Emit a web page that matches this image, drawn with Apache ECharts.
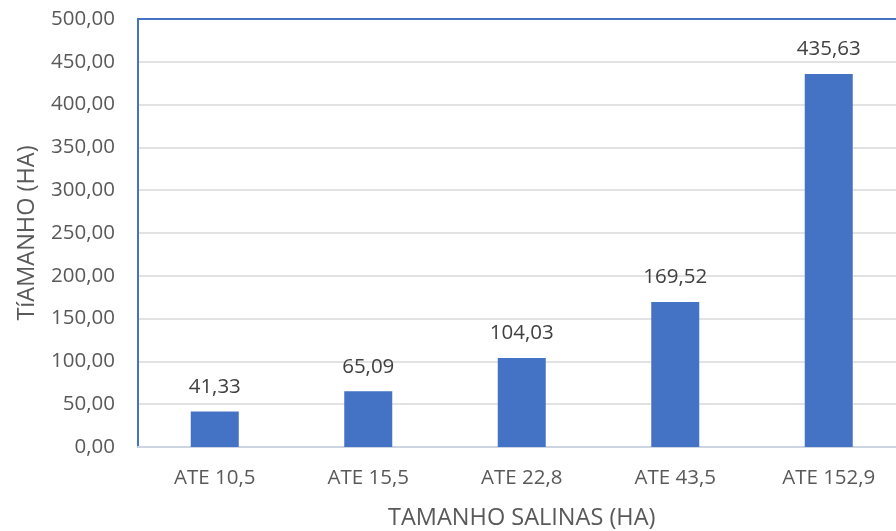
<!DOCTYPE html>
<html>
<head>
<meta charset="utf-8">
<script src="https://cdn.jsdelivr.net/npm/echarts@6/dist/echarts.min.js"></script>
<style>html,body{margin:0;padding:0;background:#fff}#c{width:896px;height:531px}</style>
</head>
<body>
<div id="c"></div>
<script>
var categories = ['ATE 10,5', 'ATE 15,5', 'ATE 22,8', 'ATE 43,5', 'ATE 152,9'];
var values = [41.33, 65.09, 104.03, 169.52, 435.63];
var xTitle = 'TAMANHO SALINAS (HA)';
var yTitle = 'TíAMANHO (HA)';

var fmt = function (v) { return Number(v).toFixed(2).replace('.', ','); };
var font = 'Open Sans';
var chart = echarts.init(document.getElementById('c'));
chart.setOption({
  animation: false,
  grid: { left: 138, top: 19, width: 767.5, height: 428, containLabel: false, outerBoundsMode: 'none' },
  xAxis: [{
    type: 'category',
    data: categories,
    name: xTitle,
    nameLocation: 'middle',
    nameGap: 59,
    nameTextStyle: { fontFamily: font, fontSize: 23.5, color: '#595959' },
    axisLine: { show: true, lineStyle: { color: '#CDD4E2', width: 2 } },
    axisTick: { show: false },
    axisLabel: { margin: 21, fontFamily: font, fontSize: 20.5, color: '#595959' }
  }, {
    type: 'category',
    data: categories,
    position: 'top',
    axisLine: { show: true, lineStyle: { color: '#4472C4', width: 2 } },
    axisTick: { show: false },
    axisLabel: { show: false }
  }],
  yAxis: {
    type: 'value',
    min: 0, max: 500, interval: 50,
    name: yTitle,
    nameLocation: 'middle',
    nameGap: 99,
    nameRotate: 90,
    nameTextStyle: { fontFamily: font, fontSize: 23.5, color: '#595959' },
    axisLine: { show: true, lineStyle: { color: '#4472C4', width: 2 } },
    axisTick: { show: false },
    axisLabel: { margin: 23, fontFamily: font, fontSize: 20.5, color: '#595959', formatter: fmt },
    splitLine: { show: true, lineStyle: { color: '#D9D9D9', width: 1.5 } }
  },
  series: [{
    type: 'bar',
    data: values,
    barWidth: 48,
    itemStyle: { color: '#4472C4' },
    label: {
      show: true, position: 'top', distance: 14,
      fontFamily: font, fontSize: 20.5, color: '#404040',
      formatter: function (p) { return fmt(p.value); }
    }
  }]
});
</script>
</body>
</html>
